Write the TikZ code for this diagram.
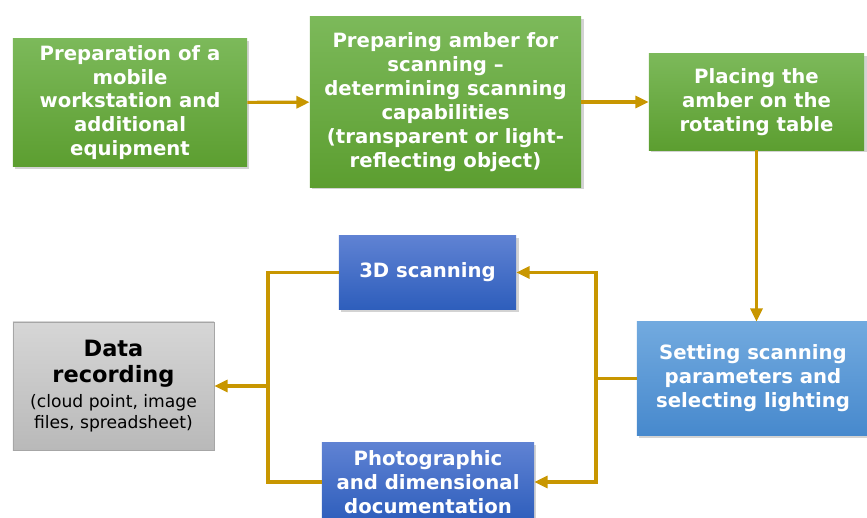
\documentclass[tikz,border=0pt]{standalone}
\usepackage{xcolor}
\usepackage{fontspec}
\setmainfont{DejaVu Sans}
\usetikzlibrary{arrows.meta, positioning, shadows}

\definecolor{greentop}{HTML}{7CB95A}
\definecolor{greenbot}{HTML}{5C9E30}
\definecolor{bluetop}{HTML}{5F82D3}
\definecolor{bluebot}{HTML}{2E5EBC}
\definecolor{skytop}{HTML}{72AADF}
\definecolor{skybot}{HTML}{4789CD}
\definecolor{graytop}{HTML}{D6D6D6}
\definecolor{graybot}{HTML}{B9B9B9}
\definecolor{linegold}{HTML}{C89600}

\newcommand{\headfont}{\bfseries\fontsize{16}{19}\selectfont}
\newcommand{\notefont}{\mdseries\fontsize{12.2}{15}\selectfont}

\tikzset{
    box/.style={rectangle, align=center, inner sep=2pt,
        font=\bfseries\fontsize{14}{17}\selectfont, text=white,
        drop shadow={opacity=0.35, shadow xshift=0.06cm, shadow yshift=-0.06cm}},
    greenbox/.style={box, top color=greentop, bottom color=greenbot},
    bluebox/.style={box, top color=bluetop, bottom color=bluebot},
    skybox/.style={box, top color=skytop, bottom color=skybot},
    graybox/.style={rectangle, align=center, text=black, draw=gray!70,
        top color=graytop, bottom color=graybot, font=\fontsize{12}{15}\selectfont},
    link/.style={draw=linegold, line width=2.2pt},
    flow/.style={link, -{Triangle[length=0.33cm, width=0.3cm]}}
}

\begin{document}
\begin{tikzpicture}[x=0.025cm, y=-0.025cm]
    \useasboundingbox (0,0) rectangle (867,518);

    % top row
    \node[greenbox, minimum width=5.85cm, minimum height=3.18cm] (prep) at (130,102.5)
        {Preparation of a\\mobile\\workstation and\\additional\\equipment};
    \node[greenbox, minimum width=6.78cm, minimum height=4.25cm] (amber) at (445.5,102)
        {Preparing amber for\\scanning –\\determining scanning\\capabilities\\(transparent or light-\\reflecting object)};
    \node[greenbox, minimum width=5.38cm, minimum height=2.4cm] (place) at (756.5,102)
        {Placing the\\amber on the\\rotating table};

    % right and middle
    \node[skybox, minimum width=5.8cm, minimum height=2.83cm] (setting) at (753,378.5)
        {Setting scanning\\parameters and\\selecting lighting};
    \node[bluebox, minimum width=4.43cm, minimum height=1.83cm] (scan) at (427.5,272.5)
        {3D scanning};
    \node[bluebox, minimum width=5.3cm, minimum height=1.95cm] (photo) at (428,482)
        {Photographic\\and dimensional\\documentation};

    % result
    \node[graybox, minimum width=5.03cm, minimum height=3.2cm] (data) at (113.5,386)
        {\headfont Data\\[4pt]\headfont recording\\[2.5pt]
         \notefont (cloud point, image\\\notefont files, spreadsheet)};

    \coordinate (rsplit) at (596,378.5);
    \coordinate (lsplit) at (268,386);

    \draw[flow] (prep) -- (amber);
    \draw[flow] (amber) -- (place);
    \draw[flow] (place.south) -- (place.south |- setting.north);
    \draw[link] (setting.west) -- (rsplit);
    \draw[flow] (rsplit) |- (scan.east);
    \draw[flow] (rsplit) |- (photo.east);
    \draw[link] (scan.west) -| (lsplit) |- (photo.west);
    \draw[flow] (lsplit) -- (data.east);
\end{tikzpicture}
\end{document}
